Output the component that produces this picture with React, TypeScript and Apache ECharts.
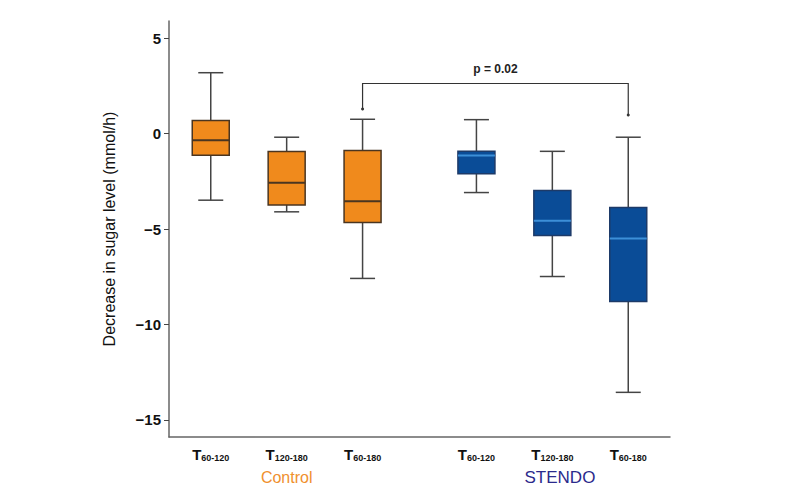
import React, { useEffect, useRef } from "react";
import * as echarts from "echarts";

// x positions of the six boxes (gap between the two groups)
const positions = [1, 2, 3, 4.5, 5.5, 6.5];
const tickSubs = ["60-120", "120-180", "60-180", "60-120", "120-180", "60-180"];
const groups = [0, 0, 0, 1, 1, 1];
// [min, Q1, median, Q3, max]
const mins = [-3.49, -4.1, -7.59, -3.09, -7.49, -13.56];
const q1s = [-1.14, -3.74, -4.66, -2.11, -5.34, -8.8];
const medians = [-0.35, -2.57, -3.54, -1.15, -4.57, -5.5];
const q3s = [0.68, -0.94, -0.89, -0.93, -2.98, -3.87];
const maxs = [3.19, -0.19, 0.75, 0.73, -0.93, -0.19];
const yTicks = [5, 0, -5, -10, -15];
const groupNames = ["Control", "STENDO"];
const pText = "p = 0.02";

const FILL = ["#F08A1C", "#0A4C97"];
const BORDER = ["#4a3520", "#1d3a68"];
const MEDIAN = ["#4a3520", "#3C8FD8"];

export default function App() {
  const ref = useRef<HTMLDivElement>(null);
  useEffect(() => {
    if (!ref.current) return;
    const chart = echarts.init(ref.current, null, { renderer: "svg" });
    const data = positions.map((x, i) => [x, mins[i], q1s[i], medians[i], q3s[i], maxs[i], groups[i]]);
    const option: any = {
      animation: false,
      grid: { left: 169, top: 21, right: 130, bottom: 63 },
      xAxis: {
        type: "value",
        min: 0.45,
        max: 7.05,
        splitLine: { show: false },
        axisLine: { show: true, onZero: false, lineStyle: { color: "#666", width: 1.5 } },
        axisTick: { show: false },
        axisLabel: {
          customValues: positions,
          margin: 8,
          formatter: (v: number) => {
            const i = positions.findIndex((p) => Math.abs(p - v) < 1e-6);
            return i < 0 ? "" : "{t|T}{s|" + tickSubs[i] + "}";
          },
          rich: {
            t: { fontFamily: "Liberation Sans, Arial", fontWeight: "bold", fontSize: 15, color: "#111", verticalAlign: "bottom" },
            s: { fontFamily: "Liberation Sans, Arial", fontWeight: "bold", fontSize: 9, color: "#111", padding: [8, 0, 0, 0], verticalAlign: "bottom" },
          },
        },
      },
      yAxis: {
        type: "value",
        min: -15.9,
        max: 5.9,
        name: "Decrease in sugar level (mmol/h)",
        nameLocation: "middle",
        nameGap: 52,
        nameTextStyle: { fontFamily: "Liberation Sans, Arial", fontSize: 16, color: "#111" },
        splitLine: { show: false },
        axisLine: { show: true, onZero: false, lineStyle: { color: "#666", width: 1.5 } },
        axisTick: { show: true, customValues: yTicks, length: 5, lineStyle: { color: "#444" } },
        axisLabel: {
          customValues: yTicks,
          margin: 8,
          formatter: (v: number) => (v < 0 ? "\u2212" + Math.abs(v) : String(v)),
          fontFamily: "Liberation Sans, Arial",
          fontWeight: "bold",
          fontSize: 15,
          color: "#111",
        },
      },
      series: [
        {
          type: "custom",
          data,
          renderItem: (params: any, api: any) => {
            const x = api.value(0);
            const g = api.value(6);
            const pMin = api.coord([x, api.value(1)]);
            const pQ1 = api.coord([x, api.value(2)]);
            const pMed = api.coord([x, api.value(3)]);
            const pQ3 = api.coord([x, api.value(4)]);
            const pMax = api.coord([x, api.value(5)]);
            const cx = pMin[0];
            const bw = 37;
            const cw = 25;
            const ls = { stroke: "#444", lineWidth: 1.5 };
            return {
              type: "group",
              children: [
                { type: "line", shape: { x1: cx, y1: pMax[1], x2: cx, y2: pQ3[1] }, style: ls },
                { type: "line", shape: { x1: cx, y1: pQ1[1], x2: cx, y2: pMin[1] }, style: ls },
                { type: "line", shape: { x1: cx - cw / 2, y1: pMax[1], x2: cx + cw / 2, y2: pMax[1] }, style: ls },
                { type: "line", shape: { x1: cx - cw / 2, y1: pMin[1], x2: cx + cw / 2, y2: pMin[1] }, style: ls },
                {
                  type: "rect",
                  shape: { x: cx - bw / 2, y: pQ3[1], width: bw, height: pQ1[1] - pQ3[1] },
                  style: { fill: FILL[g], stroke: BORDER[g], lineWidth: 1.5 },
                },
                {
                  type: "line",
                  shape: { x1: cx - bw / 2, y1: pMed[1], x2: cx + bw / 2, y2: pMed[1] },
                  style: { stroke: MEDIAN[g], lineWidth: 2 },
                },
              ],
            };
          },
        },
      ],
    };
    chart.setOption(option);

    // significance bracket between positions[2] and positions[5]
    const xa = chart.convertToPixel({ gridIndex: 0 }, [positions[2], 0])[0];
    const xb = chart.convertToPixel({ gridIndex: 0 }, [positions[5], 0])[0];
    const yTop = 83.5;
    const yL = 109;
    const yR = 115;
    const grpX0 = chart.convertToPixel({ gridIndex: 0 }, [positions[1], 0])[0];
    const grpX1 = chart.convertToPixel({ gridIndex: 0 }, [(positions[4] + positions[5]) / 2 - 0.4, 0])[0];
    chart.setOption({
      graphic: [
        {
          type: "polyline",
          shape: { points: [[xa, yL], [xa, yTop], [xb, yTop], [xb, yR]] },
          style: { stroke: "#333", lineWidth: 1.2, fill: null },
        },
        { type: "circle", shape: { cx: xa, cy: yL, r: 1.5 }, style: { fill: "#333" } },
        { type: "circle", shape: { cx: xb, cy: yR, r: 1.5 }, style: { fill: "#333" } },
        {
          type: "text",
          x: (xa + xb) / 2 + 0,
          y: 69,
          style: {
            text: pText,
            fontFamily: "Liberation Sans, Arial",
            fontWeight: "bold",
            fontSize: 12,
            fill: "#222",
            align: "center",
            verticalAlign: "middle",
          },
        },
        {
          type: "text",
          x: grpX0,
          y: 477,
          style: {
            text: groupNames[0],
            fontFamily: "Liberation Sans, Arial",
            fontSize: 16,
            fill: "#F0902E",
            align: "center",
            verticalAlign: "middle",
          },
        },
        {
          type: "text",
          x: grpX1,
          y: 477,
          style: {
            text: groupNames[1],
            fontFamily: "Liberation Sans, Arial",
            fontSize: 17,
            fill: "#2B2A8C",
            align: "center",
            verticalAlign: "middle",
          },
        },
      ],
    });
    return () => chart.dispose();
  }, []);
  return <div ref={ref} style={{ width: 800, height: 500, margin: -8 }} />;
}
